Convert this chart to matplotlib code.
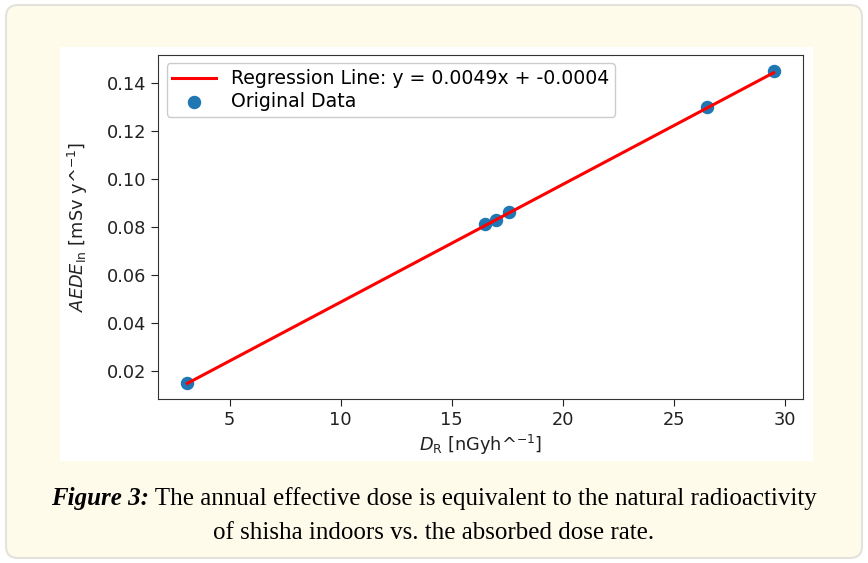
import matplotlib
matplotlib.use("Agg")
import matplotlib.pyplot as plt
from matplotlib.patches import FancyBboxPatch, Rectangle
import numpy as np

# ---- data ----
dose_rate = [3.1, 16.5, 17.0, 17.6, 26.5, 29.5]          # D_R [nGy h^-1]
aede_in = [0.015, 0.081, 0.0828, 0.086, 0.130, 0.145]     # AEDE_in [mSv y^-1]
slope = 0.0049
intercept = -0.0004
x_ticks = [5, 10, 15, 20, 25, 30]
y_ticks = [0.02, 0.04, 0.06, 0.08, 0.10, 0.12, 0.14]

W, H = 868, 563
fig = plt.figure(figsize=(W / 100, H / 100), dpi=100)
fig.patch.set_facecolor("white")

# background canvas in pixel coords
bg = fig.add_axes([0, 0, 1, 1])
bg.set_xlim(0, W)
bg.set_ylim(H, 0)
bg.axis("off")
bg.add_patch(FancyBboxPatch((6, 5), W - 12, H - 10,
                            boxstyle="round,pad=0,rounding_size=12",
                            facecolor="#fefbea", edgecolor="#e4e2da", lw=1.5))
bg.add_patch(Rectangle((60, 47), 753, 414, facecolor="white", edgecolor="none"))

# chart axes
ax = fig.add_axes([158 / W, 1 - 399 / H, (803 - 158) / W, (399 - 55) / H])
x = np.array(dose_rate)
fit = slope * x + intercept
ax.plot(x, fit, color="red", lw=2.2,
        label=f"Regression Line: y = {slope:.4f}x + {intercept:.4f}")
ax.scatter(x, aede_in, s=75, color="#1f77b4", label="Original Data")
ax.set_xticks(x_ticks)
ax.set_yticks(y_ticks)
ax.set_yticklabels([f"{v:.2f}" for v in y_ticks])
ax.tick_params(labelsize=12.8, colors="#222222", length=5)
for s in ax.spines.values():
    s.set_color("#333333")
ax.set_xlabel(r"$D_{\mathrm{R}}$ [nGyh^$^{-1}$]", fontsize=12.8, color="#222222", labelpad=3)
ax.set_ylabel(r"$AEDE_{\mathrm{In}}$ [mSv y^$^{-1}$]", fontsize=12.8, color="#222222", labelpad=12)
ax.legend(loc="upper left", fontsize=13.6, framealpha=1, borderaxespad=0.45,
          labelspacing=0.2, borderpad=0.3, handlelength=2.3, handletextpad=0.8)

# caption
fs = 18
fam = "Liberation Serif"
fig.canvas.draw()
r = fig.canvas.get_renderer()
t1 = fig.text(0, 0, "Figure 3:", fontsize=fs, family=fam, weight="bold", style="italic")
t2 = fig.text(0, 0, " The annual effective dose is equivalent to the natural radioactivity",
              fontsize=fs, family=fam)
w1 = t1.get_window_extent(r).width
w2 = t2.get_window_extent(r).width
x0 = (W / 2 - (w1 + w2) / 2)
yb = 1 - 505 / H
t1.set_position((x0 / W, yb))
t2.set_position(((x0 + w1) / W, yb))
fig.text(0.5, 1 - 539 / H, "of shisha indoors vs. the absorbed dose rate.",
         fontsize=fs, family=fam, ha="center")

fig.savefig("out.png", dpi=100, facecolor=fig.get_facecolor())
